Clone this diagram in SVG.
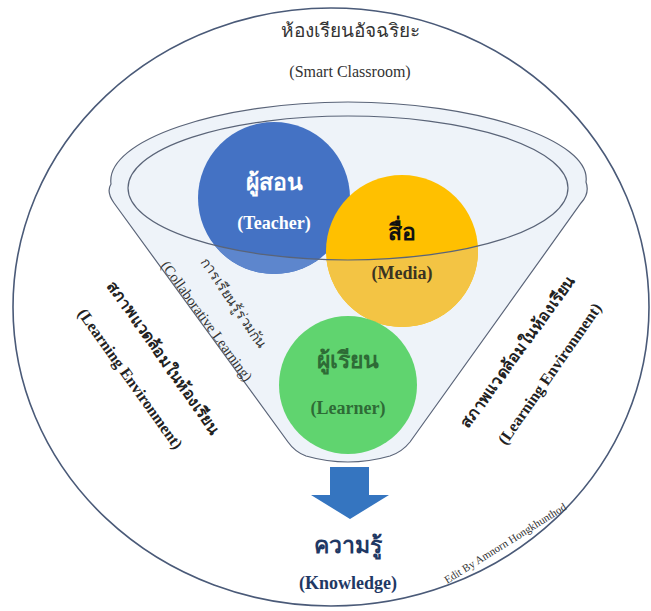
<svg xmlns="http://www.w3.org/2000/svg" width="651" height="611" viewBox="0 0 651 611">
<defs>
<style>
.t{font-family:"Liberation Serif","Noto Serif",serif;text-anchor:middle}
.b{font-weight:bold}
.ln{fill:none;stroke:#5a6478;stroke-width:1.2}
</style>
<clipPath id="outside">
<path clip-rule="evenodd" d="M0,0 H651 V611 H0 Z M128,188 A220 72 0 1 0 568,188 A220 72 0 1 0 128,188 Z"/>
</clipPath>
</defs>
<rect width="651" height="611" fill="#ffffff"/>
<g id="classroom">
<ellipse cx="331" cy="307" rx="318" ry="299" fill="#ffffff" stroke="#4a5a78" stroke-width="1.6"/>
</g>
<g id="funnel">
<path d="M288,442 L114,203 Q106,192 111,184 C105,140 220,102 348,102 C476,102 592,140 586,182 Q590,193 581,203 L410,442 Q402,452 390,456 Q348,468 306,456 Q295,452 288,442 Z" fill="#eef3f9"/>
</g>
<g id="teacher">
<circle cx="274" cy="198" r="76" fill="#4472c4"/>
<circle cx="274" cy="198" r="76" fill="#5d86cd" clip-path="url(#outside)"/>
</g>
<g id="media">
<circle cx="402" cy="251" r="76" fill="#ffc000"/>
<circle cx="402" cy="251" r="76" fill="#f3c444" clip-path="url(#outside)"/>
</g>
<g id="connectors">
<path class="ln" d="M288,442 L114,203 Q106,192 111,184 C105,140 220,102 348,102 C476,102 592,140 586,182 Q590,193 581,203 L410,442 Q402,452 390,456 Q348,468 306,456 Q295,452 288,442 Z"/>
<ellipse class="ln" cx="348" cy="188" rx="220" ry="72"/>
<path d="M330,467 H369 V495 H389 L350,519 L311,495 H330 Z" fill="#3575c0"/>
</g>
<g id="learner">
<circle cx="348" cy="385" r="69" fill="#60d46f"/>
</g>
<g id="labels">
<text class="t" x="350" y="37" font-size="19" fill="#333">ห้องเรียนอัจฉริยะ</text>
<text class="t" x="350" y="77" font-size="16" fill="#333">(Smart Classroom)</text>
<text class="t b" x="274" y="190" font-size="23" fill="#ffffff">ผู้สอน</text>
<text class="t b" x="274" y="229" font-size="18" fill="#ffffff">(Teacher)</text>
<text class="t b" x="402" y="240" font-size="23" fill="#111">สื่อ</text>
<text class="t b" x="402" y="279" font-size="18" fill="#3a3322">(Media)</text>
<text class="t b" x="348" y="368" font-size="23" fill="#2e6b36">ผู้เรียน</text>
<text class="t b" x="348" y="414" font-size="18" fill="#2e6b36">(Learner)</text>
<text class="t b" x="348" y="553" font-size="23" fill="#1f3864">ความรู้</text>
<text class="t b" x="348" y="589" font-size="18" fill="#1f3864">(Knowledge)</text>
<text class="t" transform="translate(234,303) rotate(56)" font-size="14" fill="#333" dy="5">การเรียนรู้ร่วมกัน</text>
<text class="t" transform="translate(207,321) rotate(54)" font-size="14.5" fill="#333" dy="5">(Collaborative Learning)</text>
<text class="t b" transform="translate(163,358) rotate(55)" font-size="16" fill="#222" dy="5">สภาพแวดล้อมในห้องเรียน</text>
<text class="t b" transform="translate(130,379) rotate(54.5)" font-size="16" fill="#222" dy="5">(Learning Environment)</text>
<text class="t b" transform="translate(518,352) rotate(-54)" font-size="16" fill="#222" dy="5">สภาพแวดล้อมในห้องเรียน</text>
<text class="t b" transform="translate(550,374) rotate(-55)" font-size="16" fill="#222" dy="5">(Learning Environment)</text>
<text class="t" transform="translate(505,543) rotate(-32)" font-size="11" fill="#333" dy="4">Edit By Amnorn Hongkhunthod</text>
</g>
</svg>
